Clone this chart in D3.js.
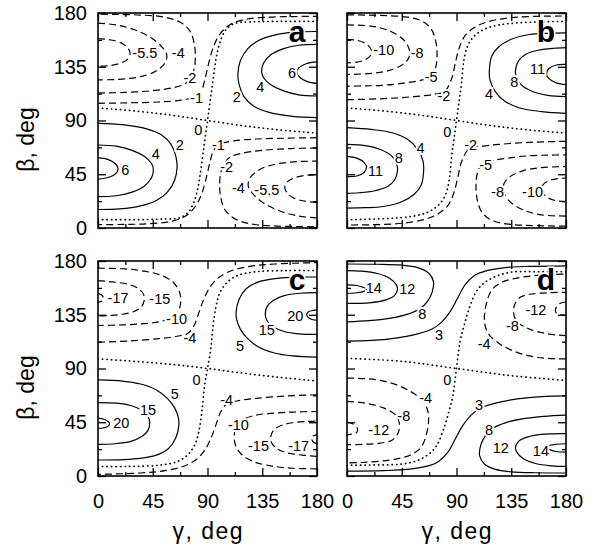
<!DOCTYPE html>
<html>
<head>
<meta charset="utf-8">
<script src="https://cdn.jsdelivr.net/npm/d3@7"></script>
<style>
  body { margin: 0; background: #fff; }
  text { font-family: "Liberation Sans", Arial, Helvetica, sans-serif; }
</style>
</head>
<body>
<svg id="chart" width="596" height="551"></svg>
<script>
var angleTicks = [0, 45, 90, 135, 180]
var minorTicks = [22.5, 67.5, 112.5, 157.5]

// contour lines: [level, [[gamma, beta], ...]]
var contoursA = [
  [6, [[0,59],[8,57.5],[14,54],[16.5,50],[15,46],[9,42.5],[0,41]]],
  [6, [[180,121],[172,122.5],[166,126],[163.5,130],[165,134],[171,137.5],[180,139]]],
  [4, [[0,69.5],[15,68.5],[28,65],[38,60],[44,54],[45.5,49],[44,42],[38,35],[28,30],[15,27],[0,26.2]]],
  [4, [[180,110.5],[165,111.5],[152,115],[142,120],[136,126],[134.5,131],[136,138],[142,145],[152,150],[165,153],[180,153.8]]],
  [2, [[0,87.6],[20,86.5],[40,83],[52,78],[60,70],[64,60],[65,51],[63,40],[57,30],[48,23],[35,18.5],[18,16],[0,15.5]]],
  [2, [[180,92.4],[160,93.5],[140,97],[128,102],[120,110],[116,120],[115,129],[117,140],[123,150],[132,157],[145,161.5],[162,164],[180,164.5]]],
  [0, [[0,100.5],[30,98],[60,94.5],[90,90],[120,85.5],[150,82],[180,79.5]]],
  [0, [[0,7],[30,7],[55,7.5],[67,8.5],[74,13],[78.5,21],[82,33],[84,45],[86,60],[88,75],[90,90],[92,105],[94,120],[96,135],[98,147],[101.5,159],[106,167],[113,171.5],[125,172.5],[150,173],[180,173]]],
  [-1, [[0,104.4],[25,104.8],[50,105.5],[68,107],[80,110],[85,115],[88,125],[91,138],[95,152],[100,162],[108,170],[120,174.5],[140,176.5],[160,177],[180,177.2]]],
  [-1, [[180,75.6],[155,75.2],[130,74.5],[112,73],[100,70],[95,65],[92,55],[89,42],[85,28],[80,18],[72,10],[60,5.5],[40,3.5],[20,3],[0,2.8]]],
  [-2, [[0,113],[22,113.5],[45,115],[62,117.5],[72,121],[76,126],[79,133],[80,145],[79,155],[75.5,165],[68,172],[55,176.5],[35,178.3],[15,178.8],[0,179]]],
  [-2, [[180,67],[158,66.5],[135,65],[118,62.5],[108,59],[104,54],[101,47],[100,35],[101,25],[104.5,15],[112,8],[125,3.5],[145,1.7],[165,1.2],[180,1]]],
  [-4, [[0,171.5],[15,170],[30,166],[44,159],[53,151],[56.5,145],[55,138],[47,131],[34,126.5],[17,124.5],[0,124]]],
  [-4, [[180,8.5],[165,10],[150,14],[136,21],[127,29],[123.5,35],[125,42],[133,49],[146,53.5],[163,55.5],[180,56]]],
  [-5.5, [[0,158.5],[10,157.5],[19,155],[25,150],[26.5,146],[24,141],[17,137.5],[8,135.8],[0,135.4]]],
  [-5.5, [[180,21.5],[170,22.5],[161,25],[155,30],[153.5,34],[156,39],[163,42.5],[172,44.2],[180,44.6]]]
]
var labelsA = [
  ['-5.5',38.5,146.5],['-4',66,146.5],['-2',75.6,125.6],['-1',81,109.4],['0',82.4,82.3],
  ['2',67.3,70],['4',47.5,62.2],['6',22.5,48.8],
  ['6',159.4,130.3],['4',133.3,118.6],['2',114,110.2],
  ['-1',99,69.8],['-2',105.8,51.6],['-4',115.4,33.5],['-5.5',138.8,32.1]
]

var contoursB = [
  [11, [[0,60],[8,58.5],[14,55],[16,51],[14,46.5],[8,43.5],[0,43]]],
  [11, [[180,120],[172,121.5],[166,125],[164,129],[166,133.5],[172,136.5],[180,137]]],
  [8, [[0,70],[15,69],[28,65.5],[37,60],[41,53],[41.5,48],[39,40],[33,34.5],[22,31],[10,29.5],[0,29]]],
  [8, [[180,110],[165,111],[152,114.5],[143,120],[139,127],[138.5,132],[141,140],[147,145.5],[158,149],[170,150.5],[180,151]]],
  [4, [[0,84],[20,82.5],[38,79.5],[50,74],[58,66],[62.5,56],[63,48],[61,36],[55,28],[45,22],[30,18],[15,17],[0,16.7]]],
  [4, [[180,96],[160,97.5],[142,100.5],[130,106],[122,114],[117.5,124],[117,132],[119,144],[125,152],[135,158],[150,162],[165,163],[180,163.3]]],
  [0, [[0,100.5],[30,98],[60,94.5],[90,90],[120,85.5],[150,82],[180,79.5]]],
  [0, [[0,7],[35,8],[55,10],[67,13.5],[76,20],[81,28],[84,40],[86,60],[88,75],[90,90],[92,105],[94,120],[96,140],[99,152],[104,160],[113,166.5],[125,170],[145,172],[180,173]]],
  [-2, [[0,107.4],[30,108.3],[55,110],[72,112],[80,114],[86,125],[89,138],[92,150],[97,161],[105,168],[115,172.5],[130,175.5],[150,177],[180,177.5]]],
  [-2, [[180,72.6],[150,71.7],[125,70],[108,68],[100,66],[94,55],[91,42],[88,30],[83,19],[75,12],[65,7.5],[50,4.5],[30,3],[0,2.5]]],
  [-5, [[0,178.5],[25,178],[45,177],[60,174],[69,167],[73,156],[74,145],[73,135],[70,127.5],[62,124],[48,121.5],[30,119.5],[15,119],[0,118.8]]],
  [-5, [[180,1.5],[155,2],[135,3],[120,6],[111,13],[107,24],[106,35],[107,45],[110,52.5],[118,56],[132,58.5],[150,60.5],[165,61],[180,61.2]]],
  [-8, [[0,170],[20,169],[35,165],[46,158],[51,150],[51,143],[46,137],[35,132],[20,129.5],[0,128.5]]],
  [-8, [[180,10],[160,11],[145,15],[134,22],[129,30],[129,37],[134,43],[145,48],[160,50.5],[180,51.5]]],
  [-10, [[0,158],[9,157],[16,154],[20,149],[19,144],[14,140.5],[7,138.7],[0,138.2]]],
  [-10, [[180,22],[171,23],[164,26],[160,31],[161,36],[166,39.5],[173,41.3],[180,41.8]]]
]
var labelsB = [
  ['-10',30.2,149.3],['-8',57.7,146.5],['-5',69.2,127],['-2',79.7,111.1],['0',82.4,80.9],
  ['4',60.5,67.5],['8',42.6,58.6],['11',23.4,48.3],
  ['11',156.6,133.1],['8',137.4,122.8],['4',116.8,112.2],
  ['-2',101.7,69.8],['-5',114,53],['-8',123.7,30.7],['-10',152.5,30.7]
]

var contoursC = [
  [20, [[0,48.5],[5,47.5],[8.5,45.5],[9.5,44],[8,41.5],[4,40.2],[0,39.8]]],
  [20, [[180,130.5],[176,131],[172.5,133],[171.5,135],[173,137.5],[177,138.7],[180,139]]],
  [15, [[0,61.5],[15,61],[27,59],[36,55],[41,50],[42.5,45],[41,38],[36,33],[27,29],[14,27],[0,26.5]]],
  [15, [[180,118.5],[165,119],[153,121],[144,125],[139,130],[137.5,135],[139,142],[144,147],[153,151],[166,153],[180,153.5]]],
  [5, [[0,80.5],[20,79.5],[35,77],[48,72],[57,65],[63,57],[66,49],[66.5,43],[64,32],[58,23],[48,17.5],[32,14.5],[15,13.5],[0,13.4]]],
  [5, [[180,99.5],[160,100.5],[145,103],[132,108],[123,115],[117,123],[114,131],[113.5,137],[116,148],[122,157],[132,162.5],[148,165.5],[165,166.5],[180,166.6]]],
  [0, [[0,98],[30,96],[60,93.5],[90,90],[120,86],[150,82.5],[180,79.5]]],
  [0, [[0,8],[25,8],[50,9],[65,12],[74,18],[80,27],[83,38],[85.5,55],[87.5,75],[90,90],[92.5,105],[94.5,125],[97,142],[100,153],[106,162],[115,168],[130,171],[155,172],[180,172]]],
  [-4, [[0,112],[25,113],[50,115],[65,117],[74,119.5],[79,126],[83,137],[87,148],[92,158],[99,166],[110,172],[125,175.5],[145,177.5],[180,178.6]]],
  [-4, [[180,68],[155,67],[130,65],[115,63],[106,60.5],[101,54],[97,43],[93,32],[88,22],[81,14],[70,8],[55,4.5],[35,2.5],[0,1.4]]],
  [-10, [[0,174],[20,173.5],[38,171.5],[52,168],[62,162],[67,154],[68,146],[66,138],[60,132.5],[50,129],[35,127.3],[18,126.4],[0,126]]],
  [-10, [[180,6],[160,6.5],[142,8.5],[128,12],[118,18],[113,26],[112,34],[114,42],[120,47.5],[130,51],[145,52.7],[162,53.6],[180,54]]],
  [-15, [[0,163.5],[12,162.5],[25,160.5],[33,157],[37.5,152],[38,147],[35.5,141.5],[29,137.5],[19,135.3],[8,134.3],[0,134]]],
  [-15, [[180,16.5],[168,17.5],[155,19.5],[147,23],[142.5,28],[142,33],[144.5,38.5],[151,42.5],[161,44.7],[172,45.7],[180,46]]],
  [-17, [[0,153],[3,151.5],[4.5,149],[3.5,146.5],[0,145.5]]],
  [-17, [[180,27],[177,28.5],[175.5,31],[176.5,33.5],[180,34.5]]]
]
var labelsC = [
  ['-17',16.5,149.3],['-15',50.8,148.5],['-10',64.6,131.7],['-4',75.6,115.8],['0',81,80.4],
  ['5',63.2,68.9],['15',41.2,55.2],['20',19.2,44.6],
  ['20',162.1,134],['15',138.8,122.8],['5',116.8,108.8],
  ['-4',105.8,63.6],['-10',115.4,43.2],['-15',131.9,25.1],['-17',164.9,25.1]
]

var contoursD = [
  [14, [[0,160],[8,159.5],[14,157.7],[16,156.3],[14,154.6],[8,153.4],[0,153]]],
  [14, [[180,20],[172,20.5],[166,22.3],[164,23.7],[166,25.4],[172,26.6],[180,27]]],
  [12, [[0,172],[12,171.5],[25,169.5],[35,165.5],[40.5,160],[41.5,156],[39,151],[32,147.5],[18,145],[0,144.5]]],
  [12, [[180,8],[168,8.5],[155,10.5],[145,14.5],[139.5,20],[138.5,24],[141,29],[148,32.5],[162,35],[180,35.5]]],
  [8, [[0,177.5],[25,177.3],[45,176.5],[58,174.5],[67,170],[71,163],[70,154],[66,146],[60,140],[50,135.5],[35,132],[18,130],[0,129]]],
  [8, [[180,2.5],[155,2.7],[135,3.5],[122,5.5],[113,10],[109,17],[110,26],[114,34],[120,40],[130,44.5],[145,48],[162,50],[180,51]]],
  [3, [[0,113],[20,113.5],[40,115.5],[58,119],[70,123],[78,129],[85,138],[91,149],[97,160],[105,168],[115,172],[130,174.5],[150,175.5],[180,176]]],
  [3, [[180,67],[160,66.5],[140,64.5],[122,61],[110,57],[102,51],[95,42],[89,31],[83,20],[75,12],[65,8],[50,5.5],[30,4.5],[0,4]]],
  [0, [[0,98.5],[45,96],[90,90],[135,84],[180,80]]],
  [0, [[0,9],[25,9.3],[45,10],[58,13],[68,19],[74,26],[80,41],[84,55],[87,67],[90,90],[93,113],[96,125],[100,139],[106,154],[112,161],[122,167],[135,170.7],[155,171],[180,171]]],
  [-4, [[0,82],[15,81.5],[30,79.5],[44,75],[55,69],[63,62],[66.5,54],[67,45],[65.5,36],[61.5,25],[54,18.5],[44,15],[28,12.5],[12,11.3],[0,11]]],
  [-4, [[180,98],[165,98.5],[150,100.5],[136,105],[125,111],[117,118],[113.5,126],[113,135],[114.5,144],[118.5,155],[126,161.5],[136,165],[152,167.5],[168,168.7],[180,169]]],
  [-8, [[0,62.5],[15,61],[30,57],[40,51],[43,44],[42,36],[37,30],[27,27.5],[13,26.5],[0,26.3]]],
  [-8, [[180,117.5],[165,119],[150,123],[140,129],[137,136],[138,144],[143,150],[153,152.5],[167,153.5],[180,153.7]]],
  [-12, [[0,45],[5,43.5],[8.5,40],[8,36.5],[4,35],[0,34.5]]],
  [-12, [[180,145.5],[175,144.5],[171.5,140],[172,136.5],[176,135],[180,134.5]]]
]
var labelsD = [
  ['14',22,157.7],['12',49.5,157.1],['8',61.8,136.2],['3',75.6,118],['0',82.4,80.9],
  ['-4',64.6,65.6],['-8',46.7,50.2],['-12',26.1,39.1],
  ['-12',155.3,139.5],['-8',136,125.6],['-4',112.7,111.1],
  ['3',108.5,60],['8',116.8,39.1],['12',126.4,23.7],['14',159.4,20.9]
]

var pw = 219, ph = 215

var panels = [
  {id: 'a', left: 98, top: 13, contours: contoursA, labels: labelsA, yLabels: true, xLabels: false},
  {id: 'b', left: 347, top: 13, contours: contoursB, labels: labelsB, yLabels: false, xLabels: false},
  {id: 'c', left: 98, top: 261, contours: contoursC, labels: labelsC, yLabels: true, xLabels: true},
  {id: 'd', left: 347, top: 261, contours: contoursD, labels: labelsD, yLabels: false, xLabels: true}
]

var svg = d3.select('#chart')
var defs = svg.append('defs')

panels.forEach(p => {
  var x = d3.scaleLinear().domain([0, 180]).range([p.left, p.left + pw])
  var y = d3.scaleLinear().domain([0, 180]).range([p.top + ph, p.top])

  defs.append('clipPath')
      .attr('id', 'clip_' + p.id)
    .append('rect')
      .attr('x', p.left).attr('y', p.top)
      .attr('width', pw).attr('height', ph)

  var g = svg.append('g').attr('clip-path', 'url(#clip_' + p.id + ')')

  var line = d3.line()
    .x(d => x(d[0]))
    .y(d => y(d[1]))
    .curve(d3.curveCatmullRom.alpha(0.5))

  g.selectAll('path.contour')
    .data(p.contours)
    .enter()
    .append('path')
      .attr('class', 'contour')
      .attr('d', d => line(d[1]))
      .attr('fill', 'none')
      .attr('stroke', '#000')
      .attr('stroke-width', d => d[0] == 0 ? 1.7 : 1.2)
      .attr('stroke-linecap', d => d[0] == 0 ? 'round' : 'butt')
      .attr('stroke-dasharray', d => d[0] > 0 ? null : (d[0] == 0 ? '0.3,4.2' : '7,4'))

  g.selectAll('text.clab')
    .data(p.labels)
    .enter()
    .append('text')
      .attr('class', 'clab')
      .attr('x', d => x(d[1]))
      .attr('y', d => y(d[2]))
      .attr('dy', '0.36em')
      .attr('text-anchor', 'middle')
      .attr('font-size', 14.5)
      .attr('fill', '#000')
      .attr('stroke', '#fff')
      .attr('stroke-width', 4)
      .attr('paint-order', 'stroke')
      .text(d => d[0])

  svg.append('text')
    .attr('x', p.left + 199)
    .attr('y', p.top + 29)
    .attr('text-anchor', 'middle')
    .attr('font-size', 30)
    .attr('font-weight', 'bold')
    .attr('stroke', '#fff')
    .attr('stroke-width', 3)
    .attr('paint-order', 'stroke')
    .text(p.id)

  // AXES, ticks inward on all four sides
  var axes = [
    [d3.axisBottom(x), 'translate(0,' + (p.top + ph) + ')', p.xLabels, 18],
    [d3.axisTop(x), 'translate(0,' + p.top + ')', false, 11],
    [d3.axisLeft(y), 'translate(' + p.left + ',0)', p.yLabels, 11],
    [d3.axisRight(y), 'translate(' + (p.left + pw) + ',0)', false, 11]
  ]
  axes.forEach(a => {
    var major = svg.append('g')
      .attr('transform', a[1])
      .call(a[0].tickValues(angleTicks).tickSize(-8).tickPadding(a[3])
        .tickFormat(a[2] ? d3.format('d') : ''))
    major.select('.domain').remove()
    major.selectAll('line').attr('stroke-width', 1.3)
    major.selectAll('text')
      .attr('font-size', 20)
      .attr('font-family', '"Liberation Sans", Arial, sans-serif')
      .attr('fill', '#000')

    var minor = svg.append('g')
      .attr('transform', a[1])
      .call(a[0].tickValues(minorTicks).tickSize(-4).tickFormat(''))
    minor.select('.domain').remove()
    minor.selectAll('line').attr('stroke-width', 1.3)
  })

  svg.append('rect')
    .attr('x', p.left).attr('y', p.top)
    .attr('width', pw).attr('height', ph)
    .attr('fill', 'none')
    .attr('stroke', '#000')
    .attr('stroke-width', 1.6)

  if (p.yLabels) {
    svg.append('text')
      .attr('transform', 'translate(34,' + (p.top + ph / 2 + 19) + ') rotate(-90)')
      .attr('text-anchor', 'middle')
      .attr('font-size', 23)
      .text('β,  deg')
  }
  if (p.xLabels) {
    svg.append('text')
      .attr('x', p.left + pw / 2)
      .attr('y', 539)
      .attr('text-anchor', 'middle')
      .attr('font-size', 23)
      .attr('font-family', '"DejaVu Sans", "Liberation Sans", sans-serif')
      .attr('textLength', 70)
      .text('γ, deg')
  }
})
</script>
</body>
</html>
